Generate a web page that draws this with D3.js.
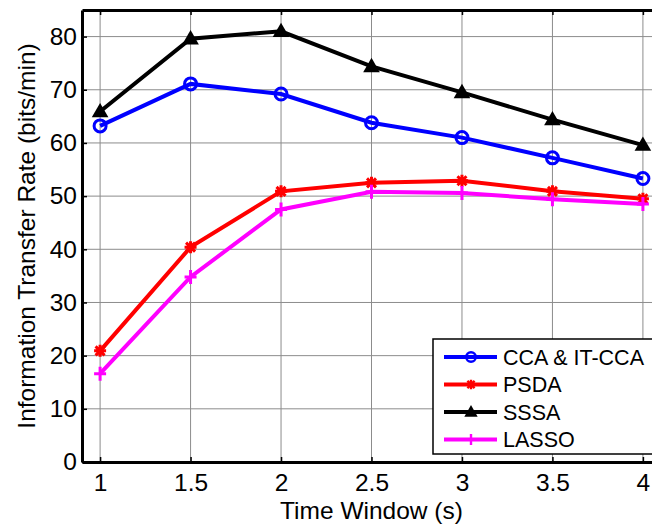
<!DOCTYPE html>
<html>
<meta charset="utf-8">
<style>
  body { margin: 0; background: #fff; }
  svg { width: 652px; height: 527px; display: block; }
  text { font-family: "Liberation Sans", Arial, sans-serif; fill: #000; }
</style>
<body>
  <svg></svg>
</body>
<script src="https://d3js.org/d3.v7.min.js"></script>
<script>

  var margin = {top: 10, right: -9, bottom: 65, left: 82},
    width = 652 - margin.left - margin.right,
    height = 527 - margin.top - margin.bottom;

  // data
  var windows = [1, 1.5, 2, 2.5, 3, 3.5, 4];
  var ccaValues   = [63.2, 71.1, 69.2, 63.8, 61.0, 57.2, 53.3];
  var psdaValues  = [20.9, 40.4, 50.9, 52.5, 52.9, 50.9, 49.5];
  var sssaValues  = [65.9, 79.6, 81.0, 74.4, 69.5, 64.4, 59.6];
  var lassoValues = [16.6, 34.8, 47.5, 50.8, 50.6, 49.4, 48.5];
  var seriesNames = ["CCA & IT-CCA", "PSDA", "SSSA", "LASSO"];
  var xTicks = [1, 1.5, 2, 2.5, 3, 3.5, 4];
  var yTicks = [0, 10, 20, 30, 40, 50, 60, 70, 80];

  var series = [
    {name: seriesNames[0], values: ccaValues, color: "#0000ff", marker: "circle"},
    {name: seriesNames[1], values: psdaValues, color: "#ff0000", marker: "star"},
    {name: seriesNames[2], values: sssaValues, color: "#000000", marker: "triangle"},
    {name: seriesNames[3], values: lassoValues, color: "#ff00ff", marker: "plus"}
  ];

  var svg = d3.select("svg")
    .append("g").attr("transform", "translate(" + margin.left + "," + margin.top + ")");

  var xScale = d3.scaleLinear().domain([0.9, 4.1]).range([0, width]);
  var yScale = d3.scaleLinear().domain([0, 85]).range([height, 0]);

  // grid
  svg.append("g").selectAll("line").data(xTicks).enter().append("line")
    .attr("x1", function(d) { return xScale(d); }).attr("x2", function(d) { return xScale(d); })
    .attr("y1", 0).attr("y2", height)
    .attr("stroke", "#8c8c8c").attr("stroke-width", 1);
  svg.append("g").selectAll("line").data(yTicks).enter().append("line")
    .attr("y1", function(d) { return yScale(d); }).attr("y2", function(d) { return yScale(d); })
    .attr("x1", 0).attr("x2", width)
    .attr("stroke", "#8c8c8c").attr("stroke-width", 1);

  // axes (MATLAB style, ticks pointing inwards)
  var xAxis = d3.axisBottom(xScale).tickValues(xTicks).tickSizeInner(-5).tickSizeOuter(0).tickPadding(12)
    .tickFormat(function(d) { return String(d); });
  var yAxis = d3.axisLeft(yScale).tickValues(yTicks).tickSizeInner(-5).tickSizeOuter(0).tickPadding(5);
  var xTop = d3.axisTop(xScale).tickValues(xTicks).tickSizeInner(-5).tickSizeOuter(0).tickFormat("");

  var gx = svg.append("g").attr("class", "x axis").attr("transform", "translate(0," + height + ")").call(xAxis);
  var gy = svg.append("g").attr("class", "y axis").call(yAxis);
  var gt = svg.append("g").attr("class", "x axis").call(xTop);

  [gx, gy, gt].forEach(function(g) {
    g.select(".domain").attr("stroke", "#000").attr("stroke-width", 3);
    g.selectAll(".tick line").attr("stroke", "#000").attr("stroke-width", 1.5);
    g.selectAll(".tick text").style("font-size", "24.5px").attr("font-family", "Liberation Sans, Arial, sans-serif");
  });

  // lines
  var line = d3.line()
    .x(function(d, i) { return xScale(windows[i]); })
    .y(function(d) { return yScale(d); });

  function drawMarker(g, type, color) {
    if (type == "circle") {
      g.append("circle").attr("r", 6).attr("fill", "none").attr("stroke", color).attr("stroke-width", 3);
    } else if (type == "triangle") {
      g.append("path").attr("d", d3.symbol().type(d3.symbolTriangle).size(120)).attr("transform", "translate(0,1)").attr("fill", color);
    } else if (type == "star") {
      g.append("path").attr("d", "M-6,0H6M0,-6V6M-4.5,-4.5L4.5,4.5M-4.5,4.5L4.5,-4.5").attr("stroke", color).attr("stroke-width", 3);
    } else {
      g.append("path").attr("d", "M-6,0H6M0,-7V7").attr("stroke", color).attr("stroke-width", 3);
    }
  }

  series.forEach(function(s) {
    svg.append("path").datum(s.values)
      .attr("d", line).attr("fill", "none")
      .attr("stroke", s.color).attr("stroke-width", 4);
    s.values.forEach(function(v, i) {
      var g = svg.append("g").attr("transform", "translate(" + xScale(windows[i]) + "," + yScale(v) + ")");
      drawMarker(g, s.marker, s.color);
    });
  });

  // legend
  var legend = svg.append("g").attr("transform", "translate(" + (433 - margin.left) + "," + (339 - margin.top) + ")");
  legend.append("rect").attr("width", 225).attr("height", 115)
    .attr("fill", "#fff").attr("stroke", "#000").attr("stroke-width", 1.5);
  series.forEach(function(s, i) {
    var row = legend.append("g").attr("transform", "translate(0," + (18 + i * 27.5) + ")");
    row.append("line").attr("x1", 11).attr("x2", 64).attr("stroke", s.color).attr("stroke-width", 4);
    var m = row.append("g").attr("transform", "translate(38,0) scale(0.8)");
    drawMarker(m, s.marker, s.color);
    row.append("text").attr("x", 70).attr("y", 7.7).style("font-size", "21.5px").text(s.name);
  });

  // axis titles
  svg.append("text").attr("x", xScale(2.5)).attr("y", height + 57)
    .attr("text-anchor", "middle").style("font-size", "24.5px").text("Time Window (s)");
  svg.append("text").attr("transform", "translate(" + (-47) + "," + (height / 2) + ") rotate(-90)")
    .attr("text-anchor", "middle").style("font-size", "24.5px").text("Information Transfer Rate (bits/min)");

</script>
</html>
